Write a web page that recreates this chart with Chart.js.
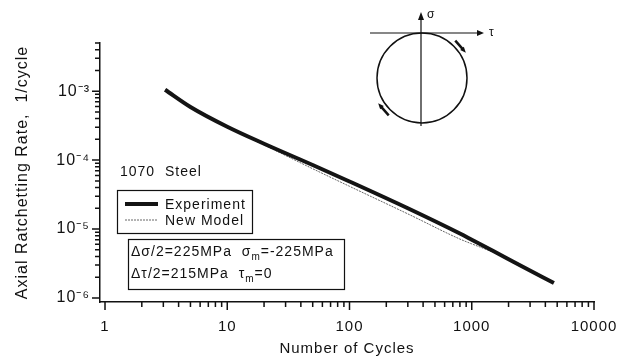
<!DOCTYPE html>
<html>
<head>
<meta charset="utf-8">
<script src="https://cdn.jsdelivr.net/npm/chart.js@4/dist/chart.umd.min.js"></script>
<style>
  html, body { margin: 0; padding: 0; background: #fff; }
  #wrap { width: 636px; height: 358px; }
</style>
</head>
<body>
<div id="wrap"><canvas id="chart"></canvas></div>
<script>
// values
const expCycles = [3.1, 5, 10, 20, 50, 100, 300, 800, 1000, 1500, 2500, 4700];
const expRate = [1.05e-3, 5.9e-4, 3.05e-4, 1.73e-4, 8.5e-5, 4.9e-5, 2.0e-5, 8.6e-6, 7.0e-6, 4.8e-6, 2.96e-6, 1.65e-6];

const modelCycles = [3.1, 5, 10, 20, 50, 100, 300, 800, 1000, 1500, 2500, 4700];
const modelRate = [1.05e-3, 5.9e-4, 3.05e-4, 1.66e-4, 7.5e-5, 4.17e-5, 1.66e-5, 7.16e-6, 6.1e-6, 4.6e-6, 2.96e-6, 1.68e-6];

const seriesNames = ['Experiment', 'New Model'];

const cycleDecades = [1, 10, 100, 1000, 10000];
const cycleLabels = ['1', '10', '100', '1000', '10000'];
const rateDecades = [1e-6, 1e-5, 1e-4, 1e-3];
const rateLabels = ['10\u207B\u2076', '10\u207B\u2075', '10\u207B\u2074', '10\u207B\u00B3'];

const materialLabel = '1070  Steel';
const xTitle = 'Number of Cycles';
const yTitle = 'Axial Ratchetting Rate,  1/cycle';

const ink = '#111';
const FONT = '"Liberation Sans", Arial, sans-serif';

function withMinors(decades, lo, hi) {
  const out = [];
  for (const d of decades) {
    for (let k = 1; k < 10; k++) {
      const v = d * k;
      if (v >= lo * 0.999 && v <= hi * 1.001) out.push(v);
    }
  }
  return out;
}
const isDecade = v => Math.abs(Math.log10(v) - Math.round(Math.log10(v))) < 1e-6;

const spacing = {
  id: 'spacing',
  beforeUpdate(chart) { chart.ctx.letterSpacing = '1px'; },
  beforeDraw(chart) { chart.ctx.letterSpacing = '1px'; }
};

// short outward tick marks, longer at decades
const tickMarks = {
  id: 'tickMarks',
  afterDraw(chart) {
    const ctx = chart.ctx;
    const xs = chart.scales.x, ys = chart.scales.y;
    ctx.save();
    ctx.strokeStyle = ink;
    ctx.lineWidth = 1.5;
    ctx.beginPath();
    for (const t of xs.ticks) {
      const px = xs.getPixelForValue(t.value);
      const len = isDecade(t.value) ? 8 : 5;
      ctx.moveTo(px, xs.top);
      ctx.lineTo(px, xs.top + len);
    }
    for (const t of ys.ticks) {
      const py = ys.getPixelForValue(t.value);
      const len = isDecade(t.value) ? 8 : 5;
      ctx.moveTo(ys.right, py);
      ctx.lineTo(ys.right - len, py);
    }
    ctx.stroke();
    ctx.restore();
  }
};

function subText(ctx, parts, x, y) {
  // parts: [text, isSub]
  for (const [s, sub] of parts) {
    ctx.font = (sub ? '10px ' : '14px ') + FONT;
    ctx.fillText(s, x, y + (sub ? 4 : 0));
    x += ctx.measureText(s).width;
  }
}

const notes = {
  id: 'notes',
  afterDraw(chart) {
    const ctx = chart.ctx;
    const a = chart.chartArea;
    const L = a.left, T = a.top;
    ctx.save();
    ctx.letterSpacing = '1px';
    ctx.fillStyle = ink;
    ctx.strokeStyle = ink;
    ctx.textBaseline = 'alphabetic';

    ctx.font = '14px ' + FONT;
    ctx.fillText(materialLabel, L + 20, T + 133);

    // legend
    ctx.lineWidth = 1.2;
    ctx.strokeRect(L + 17.5, T + 147.5, 135, 43);
    chart.data.datasets.forEach((ds, i) => {
      const y = T + 161 + i * 16;
      ctx.save();
      ctx.strokeStyle = ds.borderColor;
      ctx.lineWidth = ds.borderWidth;
      ctx.setLineDash(ds.borderDash || []);
      ctx.beginPath();
      ctx.moveTo(L + 25, y);
      ctx.lineTo(L + 58, y);
      ctx.stroke();
      ctx.restore();
      ctx.font = '14px ' + FONT;
      ctx.fillText(ds.label, L + 65, y + 5);
    });

    // loading box
    ctx.lineWidth = 1.2;
    ctx.strokeRect(L + 28.5, T + 196.5, 216, 50);
    subText(ctx, [['\u0394\u03C3/2=225MPa  \u03C3', false], ['m', true], ['=-225MPa', false]], L + 31, T + 213);
    subText(ctx, [['\u0394\u03C4/2=215MPa  \u03C4', false], ['m', true], ['=0', false]], L + 31, T + 235);

    // stress path inset
    const cx = L + 322, cy = T + 35, r = 45;
    ctx.lineWidth = 1.5;
    ctx.beginPath();
    ctx.arc(cx, cy, r, 0, Math.PI * 2);
    ctx.stroke();
    ctx.lineWidth = 1.2;
    ctx.beginPath();
    ctx.moveTo(cx - 1, cy + r + 3);
    ctx.lineTo(cx - 1, T - 28);
    ctx.moveTo(cx - 52, cy - r);
    ctx.lineTo(cx + 58, cy - r);
    ctx.stroke();
    ctx.beginPath();
    ctx.moveTo(cx - 1, T - 31); ctx.lineTo(cx - 4, T - 23); ctx.lineTo(cx + 2, T - 23); ctx.closePath();
    ctx.moveTo(cx + 62, cy - r); ctx.lineTo(cx + 55, cy - r - 3); ctx.lineTo(cx + 55, cy - r + 3); ctx.closePath();
    ctx.fill();
    ctx.font = '12px ' + FONT;
    ctx.fillText('\u03C3', cx + 5, T - 25);
    ctx.fillText('\u03C4', cx + 67, cy - r + 3);

    // direction arrows on the path
    [-0.23 * Math.PI, 0.77 * Math.PI].forEach(ang => {
      const rr = r + 5;
      const a0 = ang - 0.12, a1 = ang + 0.12;
      const x0 = cx + rr * Math.cos(a0), y0 = cy + rr * Math.sin(a0);
      const x1 = cx + rr * Math.cos(a1), y1 = cy + rr * Math.sin(a1);
      ctx.lineWidth = 2.5;
      ctx.beginPath();
      ctx.moveTo(x0, y0);
      ctx.lineTo(x1, y1);
      ctx.stroke();
      const dir = Math.atan2(y1 - y0, x1 - x0);
      ctx.beginPath();
      ctx.moveTo(x1 + 4 * Math.cos(dir), y1 + 4 * Math.sin(dir));
      ctx.lineTo(x1 + 3 * Math.cos(dir + 2.2), y1 + 3 * Math.sin(dir + 2.2));
      ctx.lineTo(x1 + 3 * Math.cos(dir - 2.2), y1 + 3 * Math.sin(dir - 2.2));
      ctx.closePath();
      ctx.fill();
    });
    ctx.restore();
  }
};

const xTicks = withMinors(cycleDecades, 1, 10000);
const yTicks = withMinors(rateDecades, 1e-6, 5e-3);

new Chart(document.getElementById('chart'), {
  type: 'line',
  data: {
    datasets: [
      {
        label: seriesNames[0],
        data: expCycles.map((c, i) => ({ x: c, y: expRate[i] })),
        borderColor: '#141414',
        borderWidth: 4,
        pointRadius: 0,
        cubicInterpolationMode: 'monotone'
      },
      {
        label: seriesNames[1],
        data: modelCycles.map((c, i) => ({ x: c, y: modelRate[i] })),
        borderColor: '#666',
        borderWidth: 1,
        borderDash: [2, 1],
        pointRadius: 0,
        cubicInterpolationMode: 'monotone'
      }
    ]
  },
  options: {
    responsive: true,
    maintainAspectRatio: false,
    animation: false,
    devicePixelRatio: 1,
    layout: { padding: { top: 43, right: 42, left: 0, bottom: 0 } },
    plugins: { legend: { display: false }, tooltip: { enabled: false } },
    scales: {
      x: {
        type: 'logarithmic',
        min: 0.91,
        max: 10000,
        afterBuildTicks: s => { s.ticks = xTicks.map(v => ({ value: v })); },
        afterFit: s => { s.height = 56; },
        grid: { display: false, drawTicks: false },
        border: { display: true, color: ink, width: 1.5 },
        ticks: {
          autoSkip: false,
          maxRotation: 0,
          padding: 16,
          color: ink,
          font: { family: FONT, size: 15 },
          callback: v => {
            const i = cycleDecades.findIndex(d => Math.abs(d - v) < d * 1e-6);
            return i >= 0 ? cycleLabels[i] : '';
          }
        },
        title: {
          display: true,
          text: xTitle,
          color: ink,
          font: { family: FONT, size: 15 },
          padding: { top: 0, bottom: 0 }
        }
      },
      y: {
        type: 'logarithmic',
        min: 8.75e-7,
        max: 5e-3,
        afterBuildTicks: s => { s.ticks = yTicks.map(v => ({ value: v })); },
        afterFit: s => { s.width = 100; },
        grid: { display: false, drawTicks: false },
        border: { display: true, color: ink, width: 1.5 },
        ticks: {
          autoSkip: false,
          padding: 10,
          color: ink,
          font: { family: FONT, size: 16 },
          callback: v => {
            const i = rateDecades.findIndex(d => Math.abs(d - v) < d * 1e-6);
            return i >= 0 ? rateLabels[i] : '';
          }
        },
        title: {
          display: true,
          text: yTitle,
          color: ink,
          font: { family: FONT, size: 16 },
          padding: { top: 13, bottom: 0 }
        }
      }
    }
  },
  plugins: [spacing, tickMarks, notes]
});
</script>
</body>
</html>
